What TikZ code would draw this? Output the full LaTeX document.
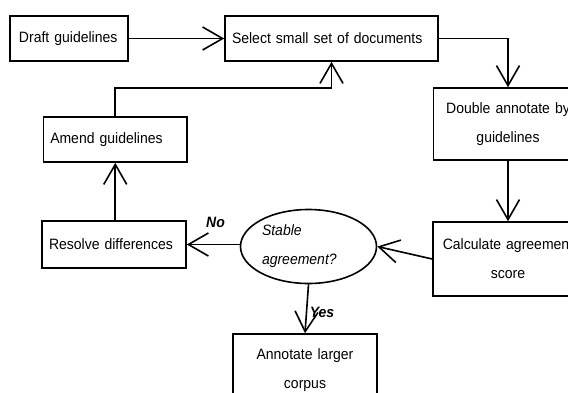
\documentclass[tikz,border=0pt]{standalone}
\usepackage{fontspec}
\setmainfont[FakeStretch=0.9333]{Liberation Sans}
\usetikzlibrary{arrows.meta,shapes.geometric}
\tikzset{
  box/.style={draw, line width=1.6pt, rectangle, inner sep=0pt,
    font=\fontsize{15}{29}\selectfont},
  decision/.style={draw, line width=1.6pt, ellipse, inner sep=0pt,
    font=\fontsize{15}{29}\selectfont\itshape},
  edgelabel/.style={inner sep=0pt, font=\fontsize{15}{16}\selectfont\bfseries\itshape},
  arr/.style={line width=1.6pt,
    -{Straight Barb[length=20pt,width=23pt,line width=1.6pt]}}
}
\begin{document}
\begin{tikzpicture}[x=1pt,y=-1pt]
\useasboundingbox (0,0) rectangle (568,392);
\fill[white] (0,0) rectangle (568,392);
\clip (0,0) rectangle (568,392);

\node[box, minimum width=118pt, minimum height=45pt, text width=100pt, align=left]
  (draft) at (69,38.5) {Draft guidelines};
\node[box, minimum width=213pt, minimum height=45pt, text width=199pt, align=left]
  (sel) at (331.5,38.5) {Select small set of documents};
\node[box, minimum width=149pt, minimum height=72pt, text width=140pt, align=center]
  (dbl) at (508,124) {Double annotate by\\guidelines};
\node[box, minimum width=150pt, minimum height=74pt, text width=140pt, align=center]
  (calc) at (508,259) {Calculate agreement\\score};
\node[decision, minimum width=136pt, minimum height=74pt, text width=93pt, align=left]
  (ell) at (308.5,246.5) {Stable\\agreement?};
\node[box, minimum width=144pt, minimum height=47pt, text width=130pt, align=left]
  (res) at (114,244.5) {Resolve differences};
\node[box, minimum width=143.5pt, minimum height=45pt, text width=130pt, align=left]
  (amend) at (115.25,139.5) {Amend guidelines};
\node[box, minimum width=144pt, minimum height=72pt, text width=140pt, align=center]
  (ann) at (305,370) {Annotate larger\\corpus};

\node[edgelabel] (no) at (215.5,222) {No};
\node[edgelabel] (yes) at (322,312) {Yes};

\draw[arr] (draft) -- (sel);
\draw[arr] (sel.east) -| (dbl.north);
\draw[arr] (dbl) -- (calc);
\draw[arr] (calc.west) -- (ell.east);
\draw[arr] (ell.west |- res.east) -- (res.east);
\draw[arr] (res.north -| amend.south) -- (amend.south);
\draw[arr] (amend.north) -- ++(0,-28) -| (sel.south);
\draw[arr] (ell.south) -- (ann.north);
\end{tikzpicture}
\end{document}
